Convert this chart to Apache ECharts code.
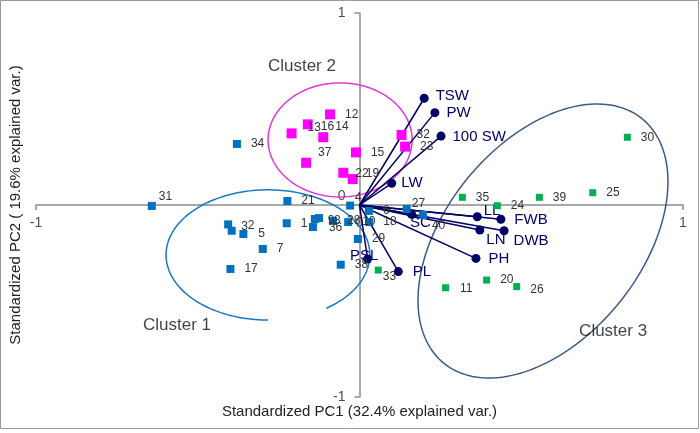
<!DOCTYPE html>
<html><head><meta charset="utf-8">
<script src="https://cdn.jsdelivr.net/npm/echarts@6/dist/echarts.min.js"></script>
<style>html,body{margin:0;padding:0;background:#fff}#c{width:700px;height:433px}</style>
</head><body><div id="c"></div>
<script>
// ---- Data ----
// Cluster 1 genotypes (blue)
const c1Labels = ['31','34','21','1','3','2','5','7','17','4','6','27','40','9','8','36','28','10','18','29','38'];
const c1PC1 = [-0.642,-0.379,-0.223,-0.225,-0.406,-0.395,-0.359,-0.299,-0.399,-0.029,0.029,0.146,0.196,-0.138,-0.125,-0.144,-0.082,-0.035,0.030,-0.005,-0.058];
const c1PC2 = [-0.005,0.318,0.021,-0.095,-0.101,-0.134,-0.151,-0.229,-0.333,-0.003,-0.031,-0.021,-0.052,-0.073,-0.068,-0.115,-0.083,-0.089,-0.089,-0.177,-0.311];
// Cluster 2 genotypes (magenta)
const c2Labels = ['12','16','13','14','37','15','22','19','32','23'];
const c2PC1 = [-0.091,-0.160,-0.210,-0.112,-0.165,-0.011,-0.050,-0.021,0.130,0.141];
const c2PC2 = [0.472,0.420,0.373,0.353,0.220,0.274,0.168,0.135,0.365,0.304];
// Cluster 3 genotypes (green)
const c3Labels = ['30','35','39','25','24','20','26','11','33'];
const c3PC1 = [0.828,0.318,0.556,0.721,0.426,0.393,0.486,0.266,0.058];
const c3PC2 = [0.353,0.040,0.040,0.064,-0.004,-0.391,-0.425,-0.431,-0.339];
// Trait loading vectors
const vecNames = ['TSW','PW','100 SW','LW','SC','LL','FWB','LN','DWB','PH','PL','PSL'];
const vecPC1 = [0.200,0.233,0.252,0.0995,0.161,0.364,0.437,0.372,0.447,0.360,0.120,0.025];
const vecPC2 = [0.556,0.481,0.359,0.113,-0.048,-0.061,-0.074,-0.130,-0.134,-0.278,-0.347,-0.281];
// Axis ticks / titles
const axisTicks = [-1, 0, 1];
const xTitle = 'Standardized PC1 (32.4% explained var.)';
const yTitle = 'Standardized PC2 ( 19.6% explained var.)';
const clusterNames = ['Cluster 1','Cluster 2','Cluster 3'];
const clusterNamePC1 = [-0.564,-0.178,0.784];
const clusterNamePC2 = [-0.625,0.724,-0.656];

// ---- Styling ----
const FONT = 'Liberation Sans, Arial, sans-serif';
const NAVY = '#000066';
const labelNudge = {
  '31':[-5,-9],'4':[-7,-8],'27':[-7,-5],'40':[-3,11],'33':[-7,7],
  '13':[3,-6],'16':[0,2],'14':[-1,-11],'37':[-1,-10],'22':[-1,1],'19':[0,-5],
  '3':[1,2],'2':[4,-5],'5':[3,0],'9':[1,2],'8':[3,3],'36':[4,1],'26':[2,3],'11':[3,1]
};
const vecNudge = {
  'TSW':[2,-2],'PW':[2,0],'100 SW':[2,1],'LW':[0,0],'SC':[-11,9],'LL':[-3,-6],
  'FWB':[4,1],'LN':[-3,10],'DWB':[0,10],'PH':[3,0],'PL':[5,0],'PSL':[-27,-3]
};
// ellipse geometry in data units: centre, two conjugate semi-axes, arc range (deg)
const ellipses = [
  {c:[-0.283,-0.260], u:[0.315,0], v:[0,0.339], t0:-55, t1:270, color:'#1a78c2'},
  {c:[-0.060,0.339], u:[0.2226,0], v:[0,0.297], t0:0, t1:360, color:'#e03ad6'},
  {c:[0.5672,-0.1875], u:[0.3062,0.6370], v:[-0.2356,0.3215], t0:0, t1:360, color:'#3d5b86'}
];

function pts(labels, xs, ys){
  return labels.map((l,i)=>({
    name:l, value:[xs[i], ys[i]],
    label:{offset: labelNudge[l] || [2,0]}
  }));
}
function scatter(labels, xs, ys, color, size){
  return {
    type:'scatter', xAxisIndex:0, yAxisIndex:0, symbol:'rect', symbolSize:size,
    itemStyle:{color:color, opacity:1},
    label:{show:true, position:'right', distance:8, formatter:'{b}', color:'#333', fontSize:12, fontFamily:FONT},
    emphasis:{disabled:true}, z:5,
    data: pts(labels, xs, ys)
  };
}

const chart = echarts.init(document.getElementById('c'), null, {renderer:'canvas'});
const axisLineStyle = {color:'#8c8c8c', width:1.5};
const tickLabelStyle = {show:true, formatter:'{b}', color:'#222', fontSize:14, fontFamily:FONT};
chart.setOption({
  animation:false,
  backgroundColor:'#fff',
  grid:{left:36, right:17, top:13, bottom:36, containLabel:false},
  xAxis:[
    {type:'value', min:axisTicks[0], max:axisTicks[2], interval:1,
     axisLine:{show:true, onZero:true, lineStyle:axisLineStyle},
     axisTick:{show:true, length:5, lineStyle:axisLineStyle},
     axisLabel:{show:false},
     splitLine:{show:false}},
    {type:'value', min:-1, max:1, position:'bottom',
     axisLine:{show:false, onZero:false}, axisTick:{show:false}, axisLabel:{show:false}, splitLine:{show:false},
     name:xTitle, nameLocation:'middle', nameGap:7,
     nameTextStyle:{fontSize:15, color:'#222', fontFamily:FONT}}
  ],
  yAxis:[
    {type:'value', min:axisTicks[0], max:axisTicks[2], interval:1,
     axisLine:{show:true, onZero:true, lineStyle:axisLineStyle},
     axisTick:{show:true, length:5, lineStyle:axisLineStyle},
     axisLabel:{show:false},
     splitLine:{show:false}},
    {type:'value', min:-1, max:1, position:'left',
     axisLine:{show:false, onZero:false}, axisTick:{show:false}, axisLabel:{show:false}, splitLine:{show:false},
     name:yTitle, nameLocation:'middle', nameGap:13,
     nameTextStyle:{fontSize:15, color:'#222', fontFamily:FONT}}
  ],
  graphic:[{type:'rect', shape:{x:0.5,y:0.5,width:698,height:428}, style:{fill:'none', stroke:'#9a9a9a', lineWidth:1}, silent:true, z:100}],
  series:[
    {
      type:'custom', xAxisIndex:0, yAxisIndex:0, z:2, silent:true,
      data: ellipses.map((e,i)=>[e.c[0], e.c[1], i]),
      renderItem:(params, api)=>{
        const e = ellipses[api.value(2)];
        const N = 180, p = [];
        for (let k=0;k<=N;k++){
          const t = (e.t0 + (e.t1-e.t0)*k/N) * Math.PI/180;
          p.push(api.coord([e.c[0]+e.u[0]*Math.cos(t)+e.v[0]*Math.sin(t),
                            e.c[1]+e.u[1]*Math.cos(t)+e.v[1]*Math.sin(t)]));
        }
        return {type:'polyline', shape:{points:p}, style:{stroke:e.color, lineWidth:1.5, fill:'none'}};
      }
    },
    // x-axis tick labels (placed on the axis that crosses at zero)
    {
      type:'scatter', xAxisIndex:0, yAxisIndex:0, symbolSize:0, silent:true, z:1,
      label:Object.assign({position:'bottom', distance:11}, tickLabelStyle),
      data: axisTicks.map(v=>({name:String(v), value:[v,0]}))
    },
    // y-axis tick labels
    {
      type:'scatter', xAxisIndex:0, yAxisIndex:0, symbolSize:0, silent:true, z:1,
      label:Object.assign({position:'left', distance:14}, tickLabelStyle),
      data: axisTicks.map(v=>({name:String(v), value:[0,v], label:{offset: v===0 ? [0,-9] : [0,0]}}))
    },
    {
      type:'lines', coordinateSystem:'cartesian2d', xAxisIndex:0, yAxisIndex:0, z:3, silent:true,
      lineStyle:{color:NAVY, width:1.5, opacity:1},
      data: vecNames.map((n,i)=>({coords:[[0,0],[vecPC1[i], vecPC2[i]]]}))
    },
    {
      type:'scatter', xAxisIndex:0, yAxisIndex:0, symbol:'circle', symbolSize:9, z:4,
      itemStyle:{color:NAVY, opacity:1}, emphasis:{disabled:true},
      label:{show:true, position:'right', distance:5, formatter:'{b}', color:NAVY, fontSize:15, fontFamily:FONT},
      data: vecNames.map((n,i)=>({name:n, value:[vecPC1[i], vecPC2[i]], label:{offset:vecNudge[n]}}))
    },
    scatter(c1Labels, c1PC1, c1PC2, '#0070C0', 8),
    scatter(c2Labels, c2PC1, c2PC2, '#FF00FF', 10),
    scatter(c3Labels, c3PC1, c3PC2, '#00B050', 7),
    {
      type:'scatter', xAxisIndex:0, yAxisIndex:0, symbolSize:0, z:6, silent:true,
      label:{show:true, position:'inside', formatter:'{b}', color:'#111', fontSize:17, fontFamily:FONT},
      data: clusterNames.map((n,i)=>({name:n, value:[clusterNamePC1[i], clusterNamePC2[i]]}))
    }
  ]
});
</script></body></html>
